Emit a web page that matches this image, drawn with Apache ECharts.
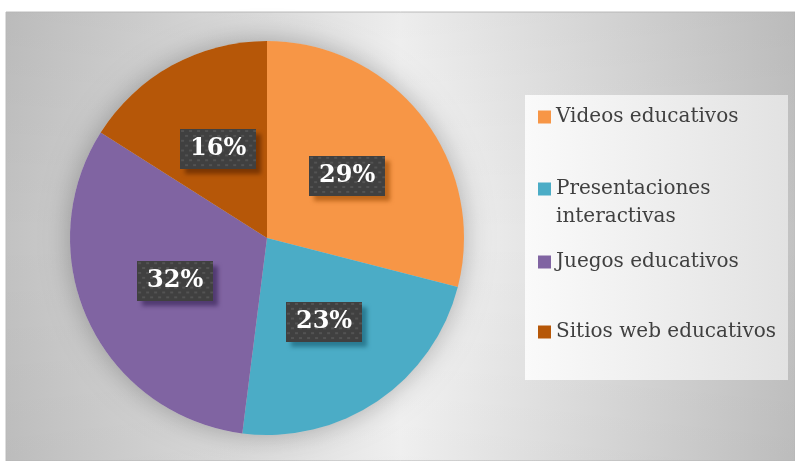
<!DOCTYPE html>
<html>
<head>
<meta charset="utf-8">
<script src="https://cdn.jsdelivr.net/npm/echarts@6/dist/echarts.min.js"></script>
<style>
  html, body { margin: 0; padding: 0; background: #ffffff; }
  #chart { width: 795px; height: 461px; }
</style>
</head>
<body>
<div id="chart"></div>
<script>
// Recursos digitales usados en clase (porcentaje de respuestas)
const categories = ['Videos educativos', 'Presentaciones interactivas', 'Juegos educativos', 'Sitios web educativos'];
// the leading blank line keeps the icon level with the first line of a wrapped entry
const legendLabels = ['Videos educativos', ' \nPresentaciones\ninteractivas', 'Juegos educativos', 'Sitios web educativos'];
const percentages = [29, 23, 32, 16];
const colors = ['#F79646', '#4BACC6', '#8064A2', '#B65708'];
const shadowTints = ['rgba(150,70,0,0.6)', 'rgba(20,90,110,0.6)', 'rgba(50,30,80,0.6)', 'rgba(90,35,0,0.65)'];

// Dotted dark texture for the value boxes
function makeTexture(w, h) {
  const c = document.createElement('canvas');
  c.width = w; c.height = h;
  const ctx = c.getContext('2d');
  ctx.fillStyle = '#404040';
  ctx.fillRect(0, 0, w, h);
  ctx.fillStyle = '#535353';
  for (let y = 1, row = 0; y < h; y += 5, row++) {
    for (let x = (row % 2) * 4 + 1; x < w; x += 8) {
      ctx.fillRect(x, y, 3, 2);
    }
  }
  return c;
}
const texture = makeTexture(76, 41);

const chart = echarts.init(document.getElementById('chart'), null, { renderer: 'canvas' });

const legendTops = [103, 147, 248, 318];

const option = {
  animation: false,
  graphic: [
    {
      type: 'rect', z: -10, silent: true,
      shape: { x: 6, y: 12, width: 789, height: 449 },
      style: {
        fill: new echarts.graphic.LinearGradient(0, 0, 1, 0, [
          { offset: 0, color: '#c2c2c2' },
          { offset: 0.5, color: '#f6f6f6' },
          { offset: 1, color: '#c2c2c2' }
        ]),
        stroke: '#bdbdbd', lineWidth: 1
      }
    },
    {
      type: 'rect', z: -9, silent: true,
      shape: { x: 6, y: 12, width: 789, height: 449 },
      style: {
        fill: new echarts.graphic.LinearGradient(0, 0, 0, 1, [
          { offset: 0, color: 'rgba(0,0,0,0.04)' },
          { offset: 0.5, color: 'rgba(0,0,0,0)' },
          { offset: 1, color: 'rgba(0,0,0,0.03)' }
        ])
      }
    },
    {
      type: 'rect', z: -8, silent: true,
      shape: { x: 525, y: 95, width: 263, height: 285 },
      style: {
        fill: new echarts.graphic.LinearGradient(0, 0, 1, 0, [
          { offset: 0, color: '#fafafa' },
          { offset: 1, color: '#e2e2e2' }
        ])
      }
    }
  ],
  legend: categories.map((name, i) => ({
    orient: 'vertical',
    left: 538,
    top: legendTops[i],
    padding: 0,
    itemWidth: 13,
    itemHeight: 13,
    icon: 'rect',
    data: [name],
    formatter: () => legendLabels[i],
    selectedMode: false,
    textStyle: {
      fontFamily: 'DejaVu Serif',
      fontSize: 20,
      color: '#404040',
      lineHeight: 28
    }
  })),
  series: [
    {
      // soft drop shadow under the pie
      type: 'pie',
      silent: true,
      center: [267, 238],
      radius: 197,
      z: 1,
      label: { show: false },
      labelLine: { show: false },
      itemStyle: {
        color: '#cfcfcf',
        shadowBlur: 28,
        shadowColor: 'rgba(0,0,0,0.28)'
      },
      data: [{ value: 1, name: '' }],
      legendHoverLink: false
    },
    {
      type: 'pie',
      center: [267, 238],
      radius: 197,
      startAngle: 90,
      clockwise: true,
      z: 2,
      data: categories.map((name, i) => ({
        name: name,
        value: percentages[i],
        itemStyle: { color: colors[i] },
        label: { shadowColor: shadowTints[i] }
      })),
      itemStyle: { borderWidth: 0 },
      label: {
        show: true,
        position: 'inside',
        formatter: p => p.value + '%',
        fontFamily: 'DejaVu Serif',
        fontWeight: 'bold',
        fontSize: 24,
        color: '#ffffff',
        backgroundColor: { image: texture },
        padding: [9, 10, 7, 10],
        shadowBlur: 4,
        shadowOffsetX: 5,
        shadowOffsetY: 5
      },
      labelLine: { show: false },
      emphasis: { disabled: true }
    }
  ]
};

chart.setOption(option);
</script>
</body>
</html>
